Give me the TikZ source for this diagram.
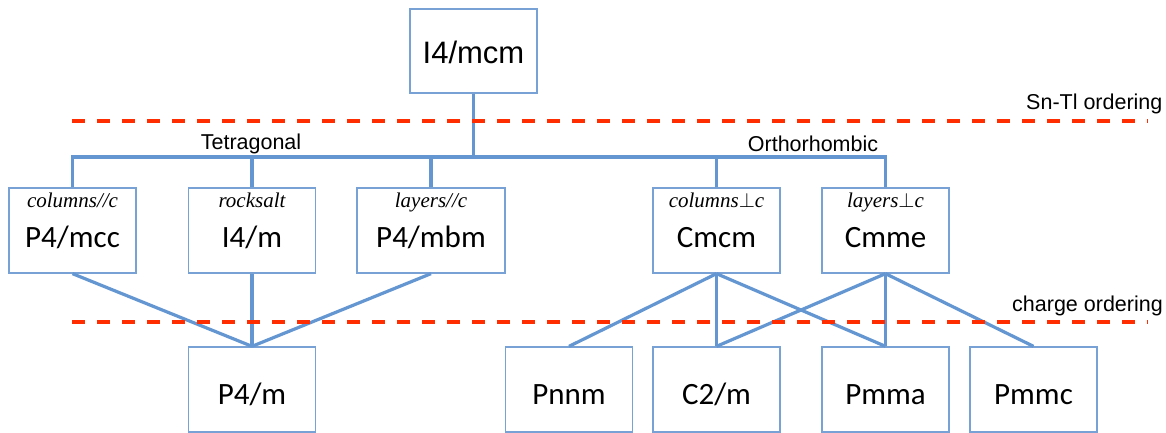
\documentclass[tikz,border=0pt]{standalone}
\usepackage{fontspec}
\setmainfont{Carlito}
\newfontfamily\arialfont{Liberation Sans}
\newfontfamily\timesfont{Liberation Serif}
\usetikzlibrary{positioning}

\definecolor{linkblue}{RGB}{100,150,210}
\definecolor{boxblue}{RGB}{120,162,214}
\definecolor{cutred}{RGB}{255,45,0}

\begin{document}
\begin{tikzpicture}[
  x=1pt, y=-1pt,
  block/.style = {draw=boxblue, line width=1.3pt, fill=white, minimum width=127pt,
    minimum height=85pt, inner sep=0pt, text depth=0pt, text height=29pt,
    font=\fontsize{31}{36}\selectfont},
  phase/.style = {label={[sub]north:#1}, text height=33pt},
  sub/.style = {anchor=north, yshift=-5pt, inner sep=0pt,
    font=\timesfont\itshape\fontsize{21}{24}\selectfont},
  link/.style = {draw=linkblue, line width=3.2pt},
  cut/.style = {draw=cutred, line width=3.3pt, dash pattern=on 13pt off 12pt},
  note/.style = {font=\arialfont\fontsize{21.5}{25}\selectfont, inner sep=0pt, anchor=base west}
  ]
  \useasboundingbox (0,0) rectangle (1166,433);

  % parent
  \node[block, minimum height=84pt, text height=26pt, font=\arialfont\fontsize{31}{36}\selectfont]
    (top) at (473.5,51) {I4/mcm};

  % first step: tetragonal and orthorhombic
  \node[block, phase={columns//c}] (pmcc) at (72.5,230.5) {P4/mcc};
  \node[block, phase={rocksalt}] (ifourm) at (252,230.5) {I4/m};
  \node[block, phase={layers//c}, minimum width=148pt] (pmbm) at (431,230.5) {P4/mbm};
  \node[block, phase={columns$\perp$c}] (cmcm) at (716.5,230.5) {Cmcm};
  \node[block, phase={layers$\perp$c}] (cmme) at (885.5,230.5) {Cmme};

  % second step: charge ordering
  \node[block] (pfourm) at (252,389.5) {P4/m};
  \node[block] (pnnm) at (569,389.5) {Pnnm};
  \node[block] (ctwom) at (716.5,389.5) {C2/m};
  \node[block] (pmma) at (885.5,389.5) {Pmma};
  \node[block] (pmmc) at (1033.5,389.5) {Pmmc};

  % tree
  \coordinate (bus) at (0,157);
  \draw[link] (top.south) -- (top.south |- bus);
  \draw[link] (pmcc.north) -- (pmcc.north |- bus) -- (cmme.north |- bus) -- (cmme.north);
  \foreach \n in {ifourm, pmbm, cmcm}
    \draw[link] (\n.north) -- (\n.north |- bus);
  \foreach \a/\b in {pmcc/pfourm, ifourm/pfourm, pmbm/pfourm, cmcm/pnnm, cmcm/ctwom,
                     cmcm/pmma, cmme/ctwom, cmme/pmma, cmme/pmmc}
    \draw[link] (\a.south) -- (\b.north);

  \node[note, anchor=base] (tetra) at (251,149) {Tetragonal};
  \node[note, anchor=base] (ortho) at (813,151) {Orthorhombic};

  % ordering levels
  \coordinate (snl) at (72,121);
  \coordinate (snr) at (1148,121);
  \coordinate (chl) at (72,322);
  \coordinate (chr) at (1148,322);
  \draw[cut] (snl) -- (snr);
  \draw[cut] (chl) -- (chr);
  \node[note] (snt) at (1026,110) {Sn-Tl ordering};
  \node[note] (chg) at (1012,311.5) {charge ordering};
\end{tikzpicture}
\end{document}
